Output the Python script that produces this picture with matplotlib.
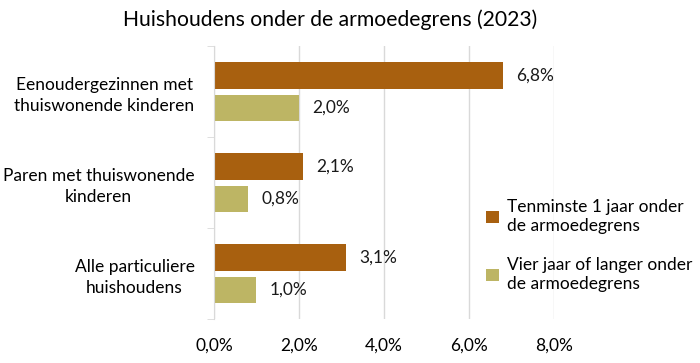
import matplotlib.pyplot as plt
import numpy as np

plt.rcParams['font.family'] = ['Lato', 'DejaVu Sans']

categories = ['Eenoudergezinnen met\nthuiswonende kinderen',
              'Paren met thuiswonende\nkinderen',
              'Alle particuliere\nhuishoudens']
tenminste_1_jaar = [6.8, 2.1, 3.1]
vier_jaar_of_langer = [2.0, 0.8, 1.0]
series_names = ['Tenminste 1 jaar onder\nde armoedegrens',
                'Vier jaar of langer onder\nde armoedegrens']
x_ticks = [0, 2, 4, 6, 8]

dark = '#A8600F'
light = '#BDB564'
fs = 12.5

fig = plt.figure(figsize=(7, 3.63), dpi=100)
ax = fig.add_axes([0.3057, 0.121, 0.4857, 0.752])

y = np.arange(len(categories))
h = 0.29
off = 0.178
b1 = ax.barh(y - off, tenminste_1_jaar, height=h, color=dark, label=series_names[0])
b2 = ax.barh(y + off, vier_jaar_of_langer, height=h, color=light, label=series_names[1])

for bars in (b1, b2):
    for rect in bars:
        w = rect.get_width()
        ax.annotate(f'{w:.1f}%'.replace('.', ','),
                    (w, rect.get_y() + rect.get_height() / 2),
                    xytext=(9.5, 0), textcoords='offset points',
                    va='center', ha='left', fontsize=fs, color='#1a1a1a')

ax.set_ylim(len(categories) - 0.5, -0.5)
ax.set_xlim(0, 8)
ax.set_xticks(x_ticks)
ax.set_xticklabels([f'{t:.1f}%'.replace('.', ',') for t in x_ticks], fontsize=fs)
ax.tick_params(axis='x', length=0, pad=13)

ax.set_yticks(y)
ax.set_yticklabels(categories, fontsize=fs, multialignment='center', linespacing=1.4)
ax.tick_params(axis='y', length=0, pad=14)
ax.set_yticks(np.arange(len(categories) + 1) - 0.5, minor=True)
ax.tick_params(axis='y', which='minor', length=5, color='#d9d9d9')

ax.grid(axis='x', color='#d9d9d9', linewidth=1)
ax.set_axisbelow(True)
for s in ['top', 'right', 'bottom']:
    ax.spines[s].set_visible(False)
ax.spines['left'].set_color('#d9d9d9')

leg = fig.legend(loc='upper left', bbox_to_anchor=(0.695, 0.452), frameon=False,
                 fontsize=fs, handlelength=0.7, handleheight=0.7,
                 handletextpad=0.5, labelspacing=1.3, borderpad=0, borderaxespad=0)
for t in leg.get_texts():
    t.set_linespacing(1.25)

fig.suptitle('Huishoudens onder de armoedegrens (2023)', x=0.471, y=0.975, fontsize=15.2)

fig.savefig('out.png', dpi=100)
